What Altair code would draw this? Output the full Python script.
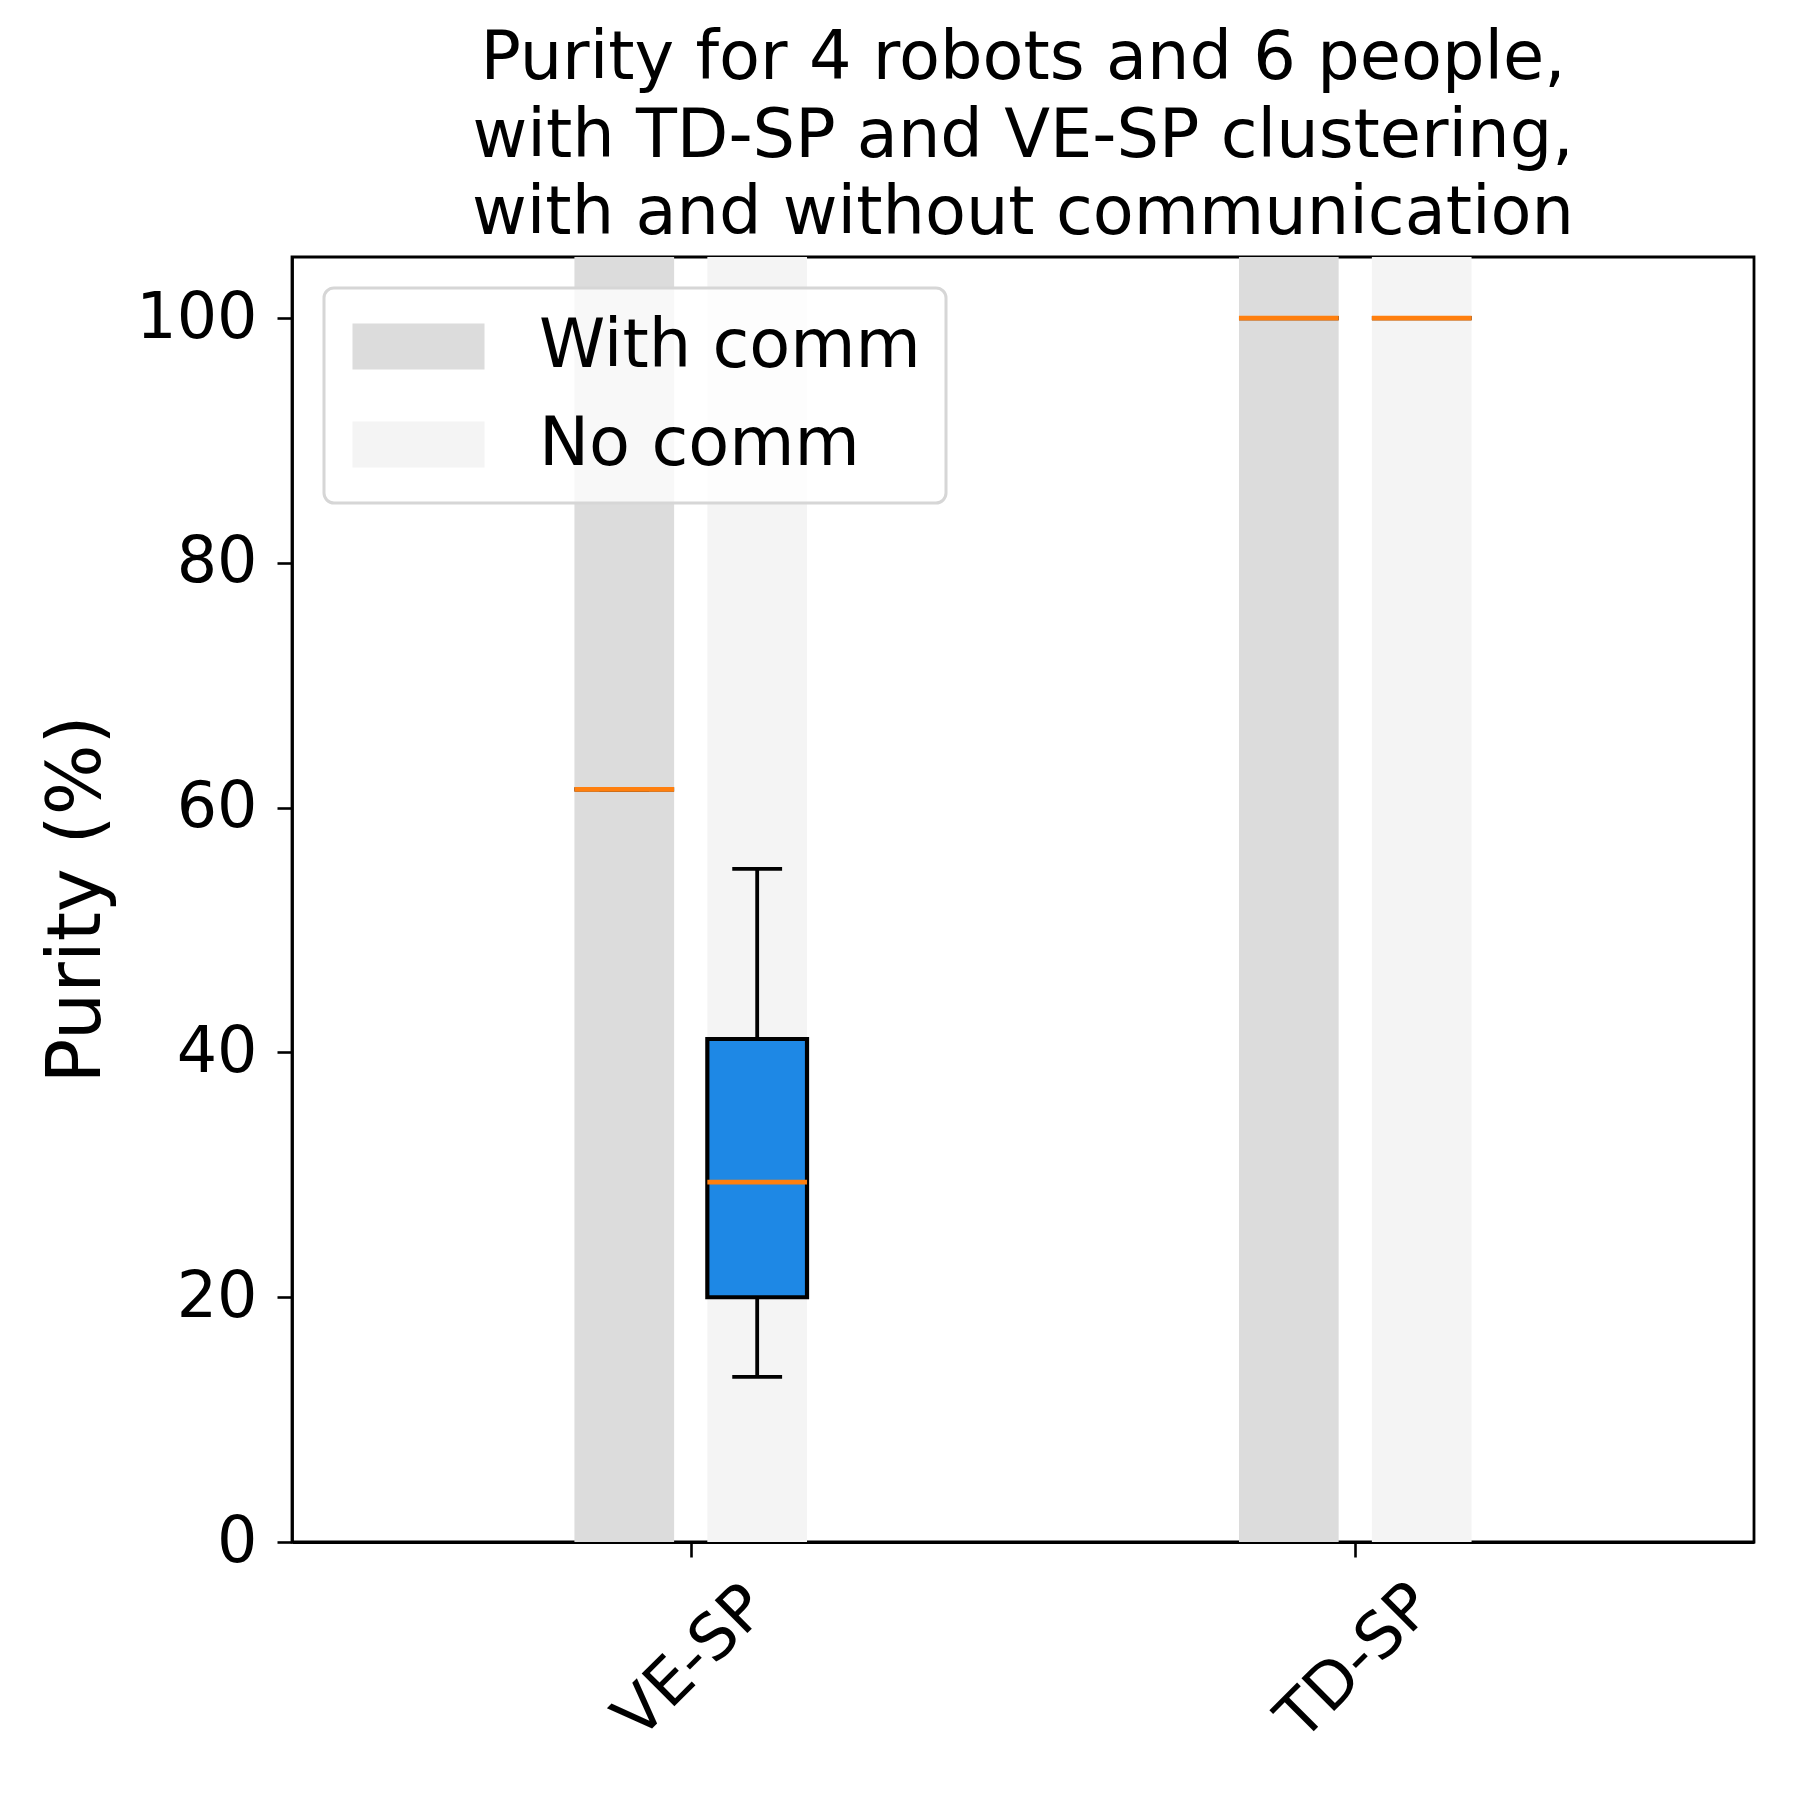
import altair as alt
import pandas as pd

# ---- data ----
categories = ["VE-SP", "TD-SP"]
cat_pos = [1, 2]
groups = ["With comm", "No comm"]
group_offset = [-0.1, 0.1]
band_colors = ["#dcdcdc", "#f4f4f4"]

box_cat = ["VE-SP", "VE-SP", "TD-SP", "TD-SP"]
box_group = ["With comm", "No comm", "With comm", "No comm"]
w_lo = [61.5, 13.5, 100.0, 100.0]
q1 = [61.5, 20.0, 100.0, 100.0]
med = [61.5, 29.4, 100.0, 100.0]
q3 = [61.5, 41.1, 100.0, 100.0]
w_hi = [61.5, 55.0, 100.0, 100.0]

title_lines = [
    "Purity for 4 robots and 6 people,",
    "with TD-SP and VE-SP clustering,",
    "with and without communication",
]
y_ticks = [0, 20, 40, 60, 80, 100]

BOX_HALF = 0.075
CAP_HALF = 0.0375

pos_of = dict(zip(categories, cat_pos))
off_of = dict(zip(groups, group_offset))
rows = []
for c, g, a, b, m, d, e in zip(box_cat, box_group, w_lo, q1, med, q3, w_hi):
    p = pos_of[c] + off_of[g]
    rows.append(dict(cat=c, group=g, pos=p, x_lo=p - BOX_HALF, x_hi=p + BOX_HALF,
                     c_lo=p - CAP_HALF, c_hi=p + CAP_HALF,
                     w_lo=a, q1=b, med=m, q3=d, w_hi=e))
df = pd.DataFrame(rows)

label_expr = " : ".join(
    [f"datum.value == {p} ? '{c}'" for p, c in zip(cat_pos, categories)]
) + " : ''"

xscale = alt.Scale(domain=[0.4, 2.6], nice=False, zero=False)
yscale = alt.Scale(domain=[0, 105], nice=False, zero=False)

TICK_FS = 63.5
xax = alt.Axis(values=cat_pos, labelExpr=label_expr, labelAngle=315,
               labelAlign="center", labelBaseline="middle", labelPadding=105,
               labelFontSize=TICK_FS, labelLimit=1000, tickSize=15, tickWidth=2.6,
               tickColor="black", domainColor="black", domainWidth=2.8,
               grid=False, title=None, labelColor="black")
yax = alt.Axis(values=y_ticks, labelFontSize=TICK_FS, tickSize=15, tickWidth=2.6,
               tickColor="black", domainColor="black", domainWidth=2.8,
               labelPadding=20, grid=False, title="Purity (%)", titleFontSize=74.5,
               titleFontWeight="normal", titleColor="black", labelColor="black",
               titleAngle=270, titleX=-193, titleY=642, titleAlign="center",
               titleBaseline="alphabetic")

base = alt.Chart(df)

bands = base.mark_rect().encode(
    x=alt.X("x_lo:Q", scale=xscale, axis=xax),
    x2="x_hi:Q",
    y=alt.datum(0, scale=yscale, axis=yax, type="quantitative"),
    y2=alt.datum(105),
    color=alt.Color("group:N", scale=alt.Scale(domain=groups, range=band_colors),
                    legend=alt.Legend(
                        title=None, orient="none", legendX=32, legendY=31,
                        symbolType="M-2.87,-1H2.87V1H-2.87Z", symbolSize=2116,
                        symbolStrokeWidth=0, symbolOpacity=1, symbolOffset=36,
                        labelFontSize=67, labelOffset=87, labelColor="black",
                        labelLimit=1000,
                        fillColor="rgba(255,255,255,0.8)", strokeColor="#d6d6d6",
                        cornerRadius=10, padding=25, rowPadding=30)),
)

whisk = base.mark_rule(color="black", strokeWidth=3.8).encode(
    x="pos:Q", y="w_lo:Q", y2="w_hi:Q")
cap_lo = base.mark_rule(color="black", strokeWidth=3.8).encode(
    x="c_lo:Q", x2="c_hi:Q", y="w_lo:Q")
cap_hi = base.mark_rule(color="black", strokeWidth=3.8).encode(
    x="c_lo:Q", x2="c_hi:Q", y="w_hi:Q")
boxes = base.mark_rect(fill="#1e88e5", stroke="black", strokeWidth=4.2).encode(
    x="x_lo:Q", x2="x_hi:Q", y="q1:Q", y2="q3:Q")
median = base.mark_rule(color="#ff7f0e", strokeWidth=4.8).encode(
    x="x_lo:Q", x2="x_hi:Q", y="med:Q")

chart = alt.layer(bands, whisk, cap_lo, cap_hi, boxes, median).properties(
    width=1462, height=1285,
    title=alt.TitleParams(text=title_lines, fontSize=67, fontWeight="normal",
                          anchor="middle", lineHeight=77.5, color="black", offset=9),
    autosize=alt.AutoSizeParams(type="none"),
    padding={"left": 284, "top": 249, "right": 38, "bottom": 250},
).configure(font="DejaVu Sans").configure_view(
    stroke="black", strokeWidth=2.8
).configure_legend(strokeWidth=3)

chart.save("out.html", embed_options={"renderer": "svg", "actions": False})
